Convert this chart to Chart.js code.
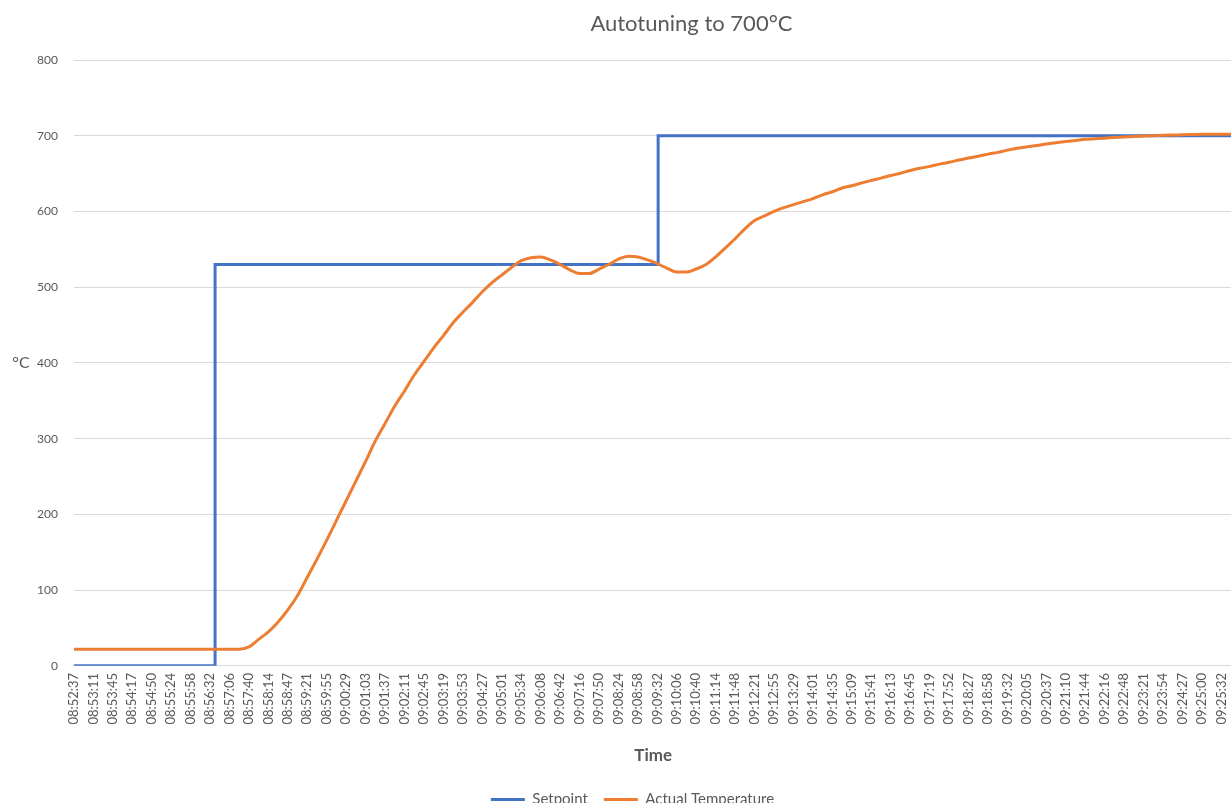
<!DOCTYPE html>
<html>
<head>
<meta charset="utf-8">
<script src="https://cdn.jsdelivr.net/npm/chart.js@4"></script>
<style>
  html, body { margin: 0; padding: 0; background: #fff; overflow: hidden; }
  #wrap { position: relative; width: 1244px; height: 817px; }
</style>
</head>
<body>
<div id="wrap"><canvas id="grafico"></canvas></div>
<script>
// time labels shown under the x axis (one every ~34 s)
const tickLabels = [
  '08:52:37', '08:53:11', '08:53:45', '08:54:17', '08:54:50', '08:55:24', '08:55:58', '08:56:32',
  '08:57:06', '08:57:40', '08:58:14', '08:58:47', '08:59:21', '08:59:55', '09:00:29', '09:01:03',
  '09:01:37', '09:02:11', '09:02:45', '09:03:19', '09:03:53', '09:04:27', '09:05:01', '09:05:34',
  '09:06:08', '09:06:42', '09:07:16', '09:07:50', '09:08:24', '09:08:58', '09:09:32', '09:10:06',
  '09:10:40', '09:11:14', '09:11:48', '09:12:21', '09:12:55', '09:13:29', '09:14:01', '09:14:35',
  '09:15:09', '09:15:41', '09:16:13', '09:16:45', '09:17:19', '09:17:52', '09:18:27', '09:18:58',
  '09:19:32', '09:20:05', '09:20:37', '09:21:10', '09:21:44', '09:22:16', '09:22:48', '09:23:21',
  '09:23:54', '09:24:27', '09:25:00', '09:25:32'
];

// setpoint changes (position in label steps, value in °C)
const setpointPos = [0, 7.26, 30.04, 59.57];
const setpoint = [0, 530, 700, 700];

// measured temperature, sampled every half label step
const actualTemp = [
  22, 22, 22, 22, 22, 22, 22, 22, 22, 22, 22, 22, 22, 22, 22, 22,
  22, 22, 25, 35, 45, 58, 74, 93, 117, 141, 166, 192, 218, 244, 270, 297,
  320, 343, 363, 384, 402, 420, 436, 453, 467, 480, 494, 506, 516, 526, 535, 539,
  540, 536, 530, 523, 518, 518, 524, 530, 537, 541, 540, 536, 531, 525, 520, 520,
  524, 530, 540, 552, 564, 577, 588, 594, 600, 605, 609, 613, 617, 622, 626, 631,
  634, 637.5, 641, 644, 647.5, 650.5, 654, 657, 659.5, 662.5, 665, 668, 670.5, 673, 675.7, 678,
  681, 683.4, 685.3, 687, 689, 690.8, 692.3, 693.7, 695.2, 696, 696.8, 697.7, 698.4, 699, 699.5, 700,
  700.5, 700.9, 701.2, 701.5, 701.8, 701.9, 702, 702
];

const titleText = 'Autotuning to 700°C';
const yUnit = '°C';
const xTitle = 'Time';

const corTexto = '#595959';
const fonte = 'Lato';

const pontosSetpoint = setpointPos.map((p, i) => ({ x: p, y: setpoint[i] }));
const pontosTemp = actualTemp.map((v, i) => ({ x: i / 2, y: v }));

// title and the horizontal °C label, placed like in the Excel sheet
const textosExtras = {
  id: 'textosExtras',
  afterDraw(chart) {
    const { ctx, chartArea } = chart;
    ctx.save();
    ctx.fillStyle = corTexto;
    ctx.textAlign = 'center';
    ctx.textBaseline = 'middle';
    ctx.font = '22px ' + fonte;
    ctx.fillText(titleText, chartArea.left + chartArea.width * 0.533, 24);
    ctx.font = '16px ' + fonte;
    ctx.fillText(yUnit, 21, (chartArea.top + chartArea.bottom) / 2);
    ctx.restore();
  }
};

new Chart(document.getElementById('grafico'), {
  type: 'line',
  data: {
    datasets: [
      {
        label: 'Setpoint',
        data: pontosSetpoint,
        borderColor: '#4472C4',
        backgroundColor: '#4472C4',
        borderWidth: 3,
        pointRadius: 0,
        stepped: 'before',
        order: 1
      },
      {
        label: 'Actual Temperature',
        data: pontosTemp,
        borderColor: '#ED7D31',
        backgroundColor: '#ED7D31',
        borderWidth: 3,
        pointRadius: 0,
        cubicInterpolationMode: 'monotone',
        order: 0
      }
    ]
  },
  options: {
    responsive: true,
    maintainAspectRatio: false,
    animation: false,
    layout: { padding: { top: 60, left: 21, right: 0, bottom: 0 } },
    plugins: {
      title: { display: false },
      tooltip: { enabled: false },
      legend: {
        position: 'bottom',
        labels: {
          usePointStyle: true,
          pointStyle: 'line',
          pointStyleWidth: 34,
          color: corTexto,
          font: { family: fonte, size: 15 },
          padding: 16,
          sort: (a, b) => a.datasetIndex - b.datasetIndex
        }
      }
    },
    scales: {
      x: {
        type: 'linear',
        min: 0,
        max: 59.57,
        afterBuildTicks: axis => {
          axis.ticks = tickLabels.map((_, i) => ({ value: i }));
        },
        grid: { display: false, drawTicks: false },
        border: { display: true, color: '#d9d9d9' },
        ticks: {
          autoSkip: false,
          minRotation: 90,
          maxRotation: 90,
          padding: 7,
          color: corTexto,
          font: { family: fonte, size: 13 },
          callback: value => tickLabels[value]
        },
        title: {
          display: true,
          text: xTitle,
          color: corTexto,
          font: { family: fonte, size: 17, weight: 'bold' },
          padding: { top: 14, bottom: 10 }
        }
      },
      y: {
        min: 0,
        max: 800,
        ticks: {
          stepSize: 100,
          padding: 16,
          color: corTexto,
          font: { family: fonte, size: 12 }
        },
        grid: { color: '#d9d9d9', drawTicks: false },
        border: { display: false }
      }
    }
  },
  plugins: [textosExtras]
});
</script>
</body>
</html>
